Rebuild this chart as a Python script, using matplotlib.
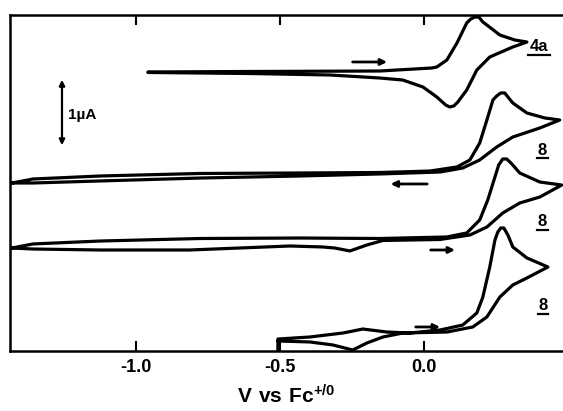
import matplotlib.pyplot as plt

# cyclic voltammograms, potential in V vs Fc+/0, current in uA (offset stacked)
v_4a = [-0.958, -0.604, -0.153, 0.028, 0.045, 0.080, 0.115, 0.149, 0.163, 0.177, 0.191,
        0.205, 0.219, 0.264, 0.316, 0.358,
        0.309, 0.229, 0.184, 0.149, 0.118, 0.104, 0.090, 0.076, 0.045, -0.003, -0.073,
        -0.153, -0.326, -0.604, -0.958]
i_4a = [3.986, 3.993, 4.000, 4.043, 4.057, 4.157, 4.400, 4.686, 4.743, 4.771, 4.771,
        4.700, 4.657, 4.514, 4.443, 4.414,
        4.343, 4.200, 4.014, 3.729, 3.557, 3.500, 3.486, 3.514, 3.629, 3.771, 3.871,
        3.900, 3.943, 3.964, 3.979]

v_8a = [-1.431, -1.358, -1.125, -0.778, -0.431, -0.153, 0.021, 0.115, 0.160, 0.194,
        0.219, 0.240, 0.253, 0.267, 0.281, 0.295, 0.309, 0.358, 0.420, 0.472,
        0.403, 0.309, 0.253, 0.194, 0.135, 0.056, -0.153, -0.431, -0.778, -1.125,
        -1.358, -1.431]
i_8a = [2.400, 2.457, 2.500, 2.536, 2.543, 2.550, 2.571, 2.629, 2.729, 2.971,
        3.300, 3.586, 3.643, 3.686, 3.686, 3.614, 3.543, 3.400, 3.329, 3.300,
        3.186, 3.057, 2.914, 2.729, 2.614, 2.557, 2.529, 2.500, 2.471, 2.429,
        2.400, 2.400]

v_8b = [-1.431, -1.358, -1.125, -0.778, -0.431, -0.153, 0.080, 0.149, 0.194, 0.222,
        0.247, 0.260, 0.274, 0.288, 0.306, 0.333, 0.403, 0.479,
        0.403, 0.333, 0.274, 0.219, 0.160, 0.056, -0.142, -0.198, -0.257, -0.309,
        -0.351, -0.465, -0.813, -1.125, -1.358, -1.431]
i_8b = [1.471, 1.529, 1.571, 1.607, 1.614, 1.607, 1.629, 1.686, 1.871, 2.157,
        2.486, 2.657, 2.743, 2.743, 2.671, 2.543, 2.414, 2.371,
        2.200, 2.114, 1.971, 1.771, 1.657, 1.593, 1.579, 1.514, 1.429, 1.471,
        1.486, 1.500, 1.443, 1.443, 1.457, 1.471]

v_8c = [-0.507, -0.507, -0.396, -0.281, -0.212, -0.128, -0.049, 0.056, 0.135, 0.184,
        0.205, 0.229, 0.247, 0.257, 0.267, 0.278, 0.292, 0.309, 0.358, 0.431,
        0.358, 0.309, 0.264, 0.219, 0.170, 0.080, -0.073, -0.142, -0.198, -0.247,
        -0.316, -0.396, -0.507]
i_8c = [0.014, 0.171, 0.200, 0.257, 0.314, 0.271, 0.257, 0.300, 0.371, 0.543,
        0.771, 1.200, 1.586, 1.700, 1.757, 1.757, 1.657, 1.486, 1.329, 1.200,
        1.043, 0.943, 0.771, 0.486, 0.343, 0.271, 0.257, 0.200, 0.114, 0.014,
        0.086, 0.129, 0.143]

labels = ['4a', '8', '8', '8']
label_pos = [(0.400, 4.35), (0.411, 2.870), (0.411, 1.845), (0.414, 0.645)]

# scan direction arrows: (tail V, head V, current)
scan_arrows = [(-0.257, -0.118, 4.129), (0.021, -0.125, 2.386),
               (0.014, 0.118, 1.443), (-0.038, 0.066, 0.343)]

plt.rcParams['font.family'] = ['Liberation Sans', 'DejaVu Sans']
plt.rcParams['font.weight'] = 'bold'
plt.rcParams['mathtext.fontset'] = 'custom'
plt.rcParams['mathtext.rm'] = 'Liberation Sans:bold'
plt.rcParams['mathtext.bf'] = 'Liberation Sans:bold'

fig = plt.figure(figsize=(5.63, 4.11), dpi=100)
ax = fig.add_axes([0.0178, 0.146, 0.982, 0.8175])

for v, i in [(v_4a, i_4a), (v_8a, i_8a), (v_8b, i_8b), (v_8c, i_8c)]:
    ax.plot(v, i, color='black', lw=2.3, solid_joinstyle='round', solid_capstyle='round')

for txt, (x, y) in zip(labels, label_pos):
    ax.text(x, y, txt, fontsize=12, fontweight='bold', ha='center', va='center')
    half = 0.019 * len(txt)
    ax.plot([x - half, x + half], [y - 0.115, y - 0.115], color='black', lw=1.6)

for x0, x1, y in scan_arrows:
    ax.annotate('', xy=(x1, y), xytext=(x0, y),
                arrowprops=dict(arrowstyle='-|>', lw=2, color='black', mutation_scale=9))

# 1 uA scale bar
ax.annotate('', xy=(-1.257, 3.914), xytext=(-1.257, 2.9),
            arrowprops=dict(arrowstyle='<|-|>', lw=1.6, color='black', mutation_scale=8))
ax.text(-1.236, 3.371, '1\u00b5A', fontsize=11, fontweight='bold', ha='left', va='center')

ax.set_xlim(-1.4375, 0.483)
ax.set_ylim(0, 4.8)
ax.set_xticks([-1.0, -0.5, 0.0])
ax.set_xticklabels(['-1.0', '-0.5', '0.0'])
ax.set_yticks([])
ax.tick_params(axis='x', direction='in', top=True, length=7, width=1.5,
               labelsize=13, pad=6)
for lab in ax.get_xticklabels():
    lab.set_fontweight('bold')
ax.spines['right'].set_visible(False)
for s in ['left', 'top', 'bottom']:
    ax.spines[s].set_linewidth(1.8)
ax.set_xlabel(r'$\mathbf{V\ vs\ Fc^{+/0}}$', fontsize=15, labelpad=6)

plt.savefig('out.png', dpi=100)
